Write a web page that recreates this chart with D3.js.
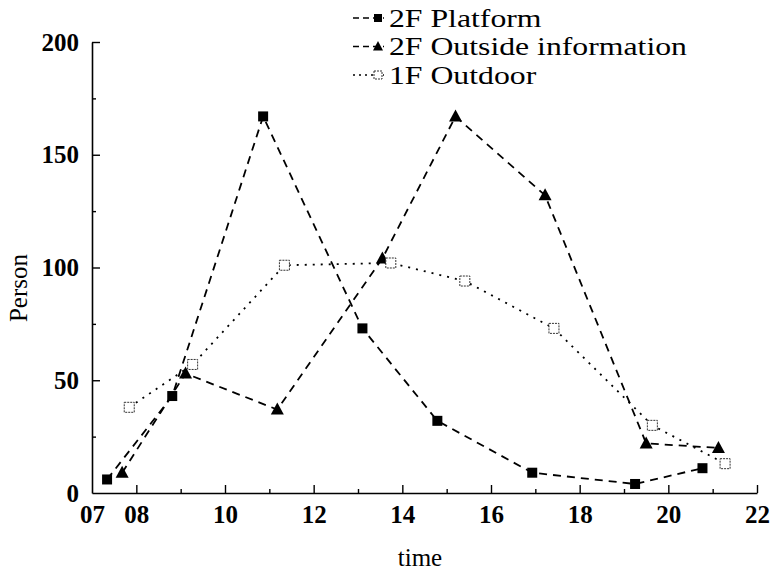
<!DOCTYPE html>
<head>
<meta charset="utf-8">
</head>
<style>
  body {
    margin: 0;
    background: #fff;
    font-family: 'Liberation Serif', 'Times New Roman', serif;
  }
  svg text {
    font-family: 'Liberation Serif', 'Times New Roman', serif;
    fill: #000;
  }
  .axis .domain {
    stroke: #000;
    stroke-width: 1.6;
  }
  .axis line {
    stroke: #000;
    stroke-width: 1.4;
  }
  .axis text {
    font-weight: bold;
    font-size: 25px;
  }
</style>
<svg width="772" height="570"></svg>
<script src="https://d3js.org/d3.v7.min.js"></script>
<script>
// values (time in hours, persons)
var platformTime = [7.34, 8.81, 10.86, 13.10, 14.79, 16.93, 19.25, 20.77];
var platformVal  = [6, 43, 167, 73, 32, 9, 4, 11];

var outsideTime = [7.68, 9.11, 11.18, 13.55, 15.20, 17.22, 19.50, 21.13];
var outsideVal  = [9, 53, 37, 104, 167, 132, 22, 20];

var outdoorTime = [7.84, 9.27, 11.34, 13.74, 15.41, 17.42, 19.64, 21.28];
var outdoorVal  = [38, 57, 101, 102, 94, 73, 30, 13];

var seriesNames = ["2F Platform", "2F Outside information", "1F Outdoor"];

var xMajor = [7, 8, 10, 12, 14, 16, 18, 20, 22];
var xMinor = [9, 11, 13, 15, 17, 19, 21];
var yMajor = [0, 50, 100, 150, 200];
var yMinor = [25, 75, 125, 175];

var svg = d3.select("svg");

var x = d3.scaleLinear().domain([7, 22]).range([92, 757]);
var y = d3.scaleLinear().domain([0, 200]).range([493, 42]);

function zip(ts, vs) {
  return ts.map(function(t, i) { return {t: t, v: vs[i]}; });
}

var series = [
  {name: seriesNames[0], data: zip(platformTime, platformVal), dash: "8,6", marker: "square"},
  {name: seriesNames[1], data: zip(outsideTime, outsideVal), dash: "8,6", marker: "triangle"},
  {name: seriesNames[2], data: zip(outdoorTime, outdoorVal), dash: "2,6", marker: "open"}
];

// minor ticks first, then the labelled axes on top
svg.append("g")
    .attr("class", "axis")
    .attr("transform", "translate(0," + y(0) + ")")
    .call(d3.axisBottom(x).tickValues(xMinor).tickSizeInner(-4).tickSizeOuter(0).tickFormat(""))
    .select(".domain").remove();

svg.append("g")
    .attr("class", "axis")
    .attr("transform", "translate(" + x(7) + ",0)")
    .call(d3.axisLeft(y).tickValues(yMinor).tickSizeInner(-4).tickSizeOuter(0).tickFormat(""))
    .select(".domain").remove();

svg.append("g")
    .attr("class", "axis")
    .attr("transform", "translate(0," + y(0) + ")")
    .call(d3.axisBottom(x).tickValues(xMajor).tickSizeInner(-8).tickSizeOuter(0)
      .tickPadding(12).tickFormat(function(d) { return d < 10 ? "0" + d : d; }));

svg.append("g")
    .attr("class", "axis")
    .attr("transform", "translate(" + x(7) + ",0)")
    .call(d3.axisLeft(y).tickValues(yMajor).tickSizeInner(-8).tickSizeOuter(0).tickPadding(13));

// drop the tick marks sitting on the corner
svg.selectAll(".axis .tick line").filter(function(d) { return d === 7 || d === 0; }).remove();

// axis titles
svg.append("text")
    .attr("x", 420)
    .attr("y", 566)
    .attr("text-anchor", "middle")
    .attr("font-size", 25)
    .text("time");

svg.append("text")
    .attr("transform", "translate(27,288) rotate(-90)")
    .attr("text-anchor", "middle")
    .attr("font-size", 25)
    .text("Person");

var line = d3.line()
    .x(function(d) { return x(d.t); })
    .y(function(d) { return y(d.v); });

function drawMarker(sel, kind) {
  if (kind === "square") {
    sel.append("rect")
        .attr("x", -5).attr("y", -5).attr("width", 10).attr("height", 10)
        .attr("fill", "#000");
  } else if (kind === "triangle") {
    sel.append("path")
        .attr("d", "M0,-7L6.5,5L-6.5,5Z")
        .attr("fill", "#000");
  } else {
    sel.append("rect")
        .attr("x", -5).attr("y", -5).attr("width", 10).attr("height", 10)
        .attr("fill", "#fff")
        .attr("stroke", "#333")
        .attr("stroke-width", 1)
        .attr("stroke-dasharray", "2,1");
  }
}

var sg = svg.selectAll(".series")
    .data(series)
    .enter().append("g")
      .attr("class", "series");

sg.append("path")
    .attr("d", function(d) { return line(d.data); })
    .attr("fill", "none")
    .attr("stroke", "#000")
    .attr("stroke-width", 1.8)
    .attr("stroke-dasharray", function(d) { return d.dash; });

sg.each(function(s) {
  d3.select(this).selectAll(".pt")
      .data(s.data)
      .enter().append("g")
        .attr("class", "pt")
        .attr("transform", function(d) { return "translate(" + x(d.t) + "," + y(d.v) + ")"; })
        .each(function() { drawMarker(d3.select(this), s.marker); });
});

// legend
var legend = svg.append("g")
  .selectAll("g")
  .data(series)
  .enter().append("g")
    .attr("transform", function(d, i) { return "translate(353," + (18 + i * 28.5) + ")"; });

legend.append("line")
    .attr("x1", 0)
    .attr("x2", 31)
    .attr("stroke", "#000")
    .attr("stroke-width", 1.6)
    .attr("stroke-dasharray", function(d) { return d.marker === "open" ? "2,4" : "6,4"; });

legend.append("g")
    .attr("transform", "translate(25,0)")
    .each(function(d) {
      var g = d3.select(this);
      drawMarker(g, d.marker);
      g.selectAll("rect").attr("x", -4).attr("y", -4).attr("width", 8).attr("height", 8);
      g.selectAll("path").attr("d", "M0,-5.5L5,4L-5,4Z");
    });

// the legend lettering in the picture is noticeably wider than plain Times
legend.append("text")
    .attr("transform", "translate(36,0) scale(1.27,1)")
    .attr("dy", "0.35em")
    .attr("font-size", 25)
    .text(function(d) { return d.name; });
</script>
